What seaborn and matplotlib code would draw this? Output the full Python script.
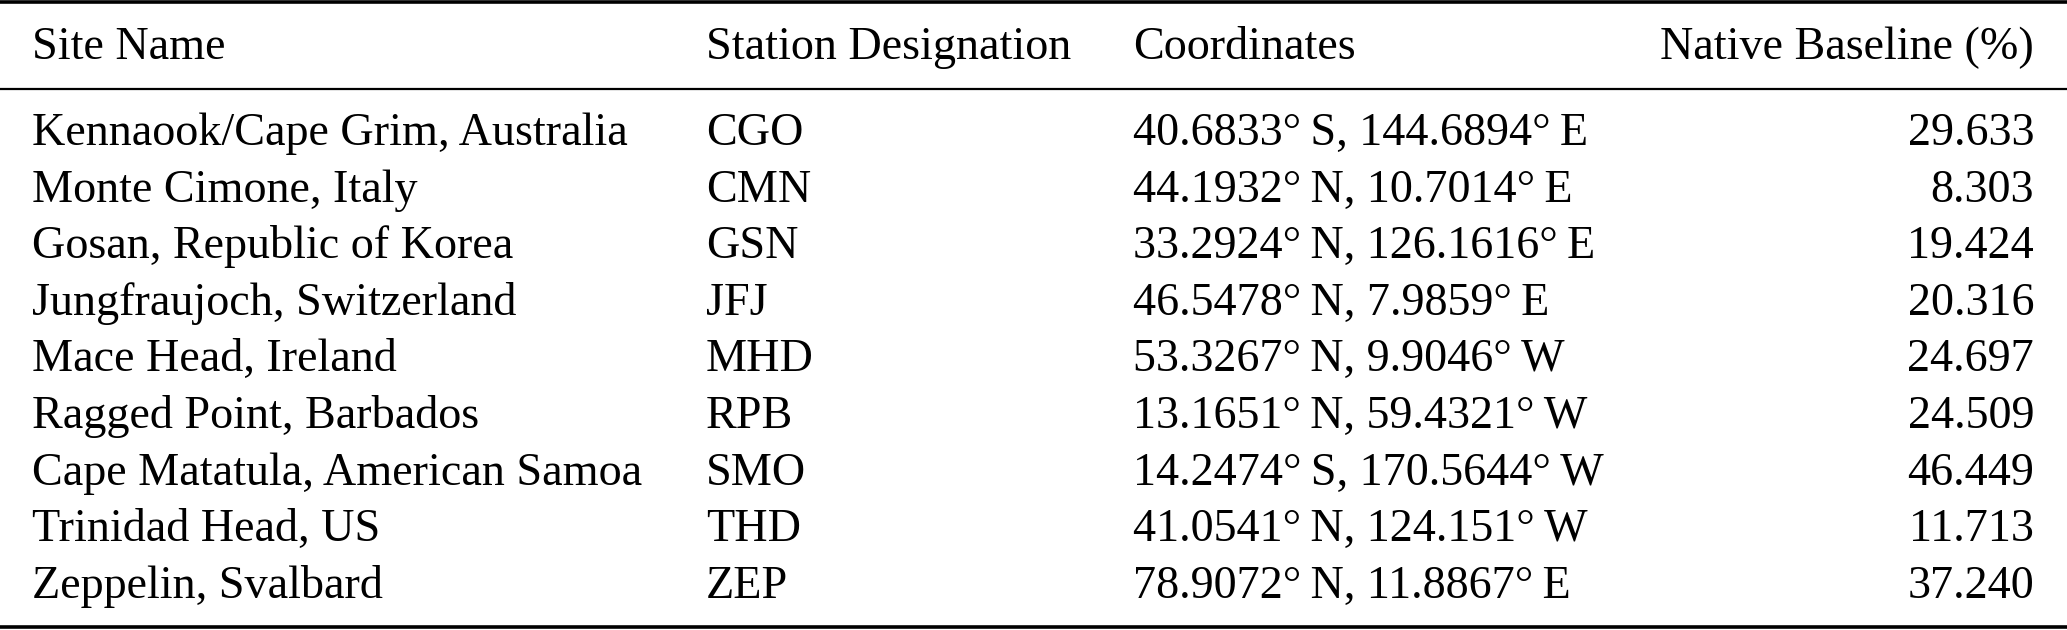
import matplotlib
matplotlib.use("Agg")
import matplotlib.pyplot as plt
import seaborn as sns
import pandas as pd

# ---- data ----
site_names = [
    "Kennaook/Cape Grim, Australia",
    "Monte Cimone, Italy",
    "Gosan, Republic of Korea",
    "Jungfraujoch, Switzerland",
    "Mace Head, Ireland",
    "Ragged Point, Barbados",
    "Cape Matatula, American Samoa",
    "Trinidad Head, US",
    "Zeppelin, Svalbard",
]
station_codes = ["CGO", "CMN", "GSN", "JFJ", "MHD", "RPB", "SMO", "THD", "ZEP"]
coordinates = [
    "40.6833°\u2009S, 144.6894°\u2009E",
    "44.1932°\u2009N, 10.7014°\u2009E",
    "33.2924°\u2009N, 126.1616°\u2009E",
    "46.5478°\u2009N, 7.9859°\u2009E",
    "53.3267°\u2009N, 9.9046°\u2009W",
    "13.1651°\u2009N, 59.4321°\u2009W",
    "14.2474°\u2009S, 170.5644°\u2009W",
    "41.0541°\u2009N, 124.151°\u2009W",
    "78.9072°\u2009N, 11.8867°\u2009E",
]
native_baseline = ["29.633", "8.303", "19.424", "20.316", "24.697",
                   "24.509", "46.449", "11.713", "37.240"]
headers = ["Site Name", "Station Designation", "Coordinates", "Native Baseline (%)"]

df = pd.DataFrame({
    "site": site_names,
    "code": station_codes,
    "coord": coordinates,
    "base": native_baseline,
})
df["row"] = range(len(df))

sns.set_theme(style="white")
plt.rcParams["font.family"] = ["Liberation Serif", "DejaVu Serif"]

W, H, DPI = 2067, 630, 100
fig = plt.figure(figsize=(W / DPI, H / DPI), dpi=DPI)
ax = fig.add_axes([0, 0, 1, 1])
ax.set_xlim(0, 1)
# rows are indexed 0..8 downward; y positions are text baselines
row_px = 56.6
first_px = 145.0
ax.set_ylim((H - first_px) / row_px, -first_px / row_px)
ax.set_axis_off()

fs = 33.2
col_x = [32 / W, 706 / W, 1133 / W, 2034 / W]
col_ha = ["left", "left", "left", "right"]
col_keys = ["site", "code", "coord", "base"]

header_y = (59 - first_px) / row_px
for x, ha, h in zip(col_x, col_ha, headers):
    ax.text(x, header_y, h, ha=ha, va="baseline", fontsize=fs, color="black")

for key, x, ha in zip(col_keys, col_x, col_ha):
    for r, val in zip(df["row"], df[key]):
        ax.text(x, r, val, ha=ha, va="baseline", fontsize=fs, color="black")

# booktabs-style rules
for px, lw in [(2.0, 2.6), (89.0, 1.6), (627.0, 2.6)]:
    ax.axhline((px - first_px) / row_px, color="black", lw=lw, xmin=0, xmax=1)

fig.savefig("out.png", dpi=DPI, facecolor="white")
